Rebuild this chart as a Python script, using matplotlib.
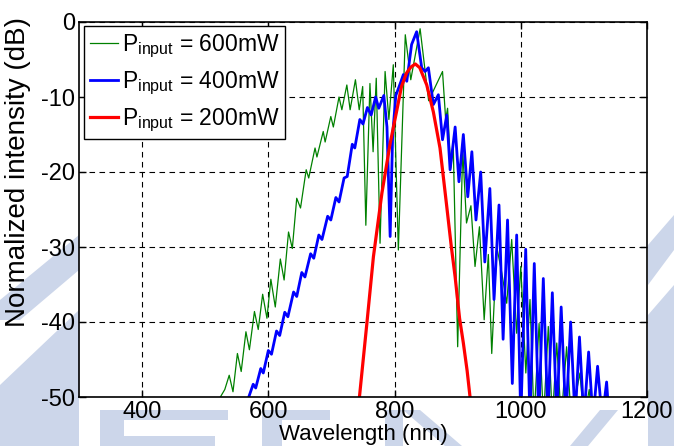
import matplotlib
matplotlib.use("Agg")
import matplotlib.pyplot as plt
from matplotlib.patches import Polygon

plt.rcParams['font.family'] = ['Liberation Sans', 'DejaVu Sans']
plt.rcParams['mathtext.fontset'] = 'custom'
plt.rcParams['mathtext.rm'] = 'Liberation Sans'
plt.rcParams['mathtext.it'] = 'Liberation Sans:italic'
plt.rcParams['axes.unicode_minus'] = False

# -------------------------
# datos
# -------------------------
wl_600 = [520, 524, 531, 538, 544, 551, 557, 564.5, 570, 578,
          584, 591, 597.8, 604, 611, 619, 625, 632, 638, 645,
          651, 660, 664, 674, 677, 687, 690, 699, 703, 712,
          716.5, 724.4, 729.6, 738, 744, 749.5, 754.5, 761, 766, 771,
          777, 785, 791, 798, 806, 817, 825.7, 840.5, 854, 876,
          881, 884, 889, 893, 900, 908, 914, 921, 927.5, 934.5,
          942, 948.6, 954, 962, 970, 977.7, 985.6, 993.5, 1000, 1008,
          1014.6, 1021, 1029, 1036, 1043.6, 1050, 1057, 1064, 1072.6, 1080,
          1093.7, 1100, 1108.5, 1112]
db_600 = [-53, -50, -49, -47.1, -49.3, -44.2, -46.6, -41.3, -43.7, -38.6,
          -41, -36.3, -39.5, -34.3, -38, -31.6, -34.4, -28, -30.2, -23.5,
          -24.8, -19.7, -20.8, -16.8, -18, -14.6, -16, -12.6, -14, -10,
          -11.7, -8.4, -11.7, -7.7, -11.7, -8.6, -27.1, -8.2, -17.3, -7.5,
          -29.5, -6.6, -13, -5.7, -30.4, -1.7, -7.7, -0.9, -10.5, -6.6,
          -13, -11.5, -19.5, -16.5, -43.3, -17, -26.8, -24.5, -32.6, -27.3,
          -39.7, -31, -44.2, -30, -33.5, -37.5, -29, -41.5, -32.6, -46.8,
          -37, -53, -40.2, -53, -40.6, -53, -42.8, -53, -43.3, -53,
          -46.8, -53, -49, -53]

wl_400 = [565, 569, 576, 580, 588, 592, 600, 605, 613, 618,
          626, 631, 640, 645, 653, 658, 667, 672, 680, 685,
          694, 699, 707, 712, 720, 725, 733, 737, 745, 750,
          757, 763, 770, 775, 783, 788, 793, 797, 802, 809,
          814, 819.4, 827, 835, 843, 848.4, 853.6, 861.5, 869.4, 876,
          882.7, 888, 896, 902, 909, 916, 922.5, 929, 936.5, 943,
          951, 957.6, 965.5, 972, 979, 986.6, 993.5, 1000, 1007.8, 1014.5,
          1021.4, 1028.5, 1035.7, 1043, 1050, 1057, 1064, 1071.5, 1079, 1086,
          1093, 1100, 1107.5, 1114.5, 1121.7, 1129, 1136, 1140]
db_400 = [-53, -50, -48.3, -48.8, -46.2, -46.8, -43.8, -44.3, -41.2, -41.8,
          -38.7, -39.3, -36.0, -36.6, -33.4, -34.0, -30.9, -31.5, -28.4, -29.0,
          -25.9, -26.4, -23.4, -24.0, -20.8, -20.6, -16.3, -16.8, -13.0, -13.6,
          -11.4, -12.4, -10.0, -11.5, -9.8, -14, -28.6, -15, -9.8, -8.2,
          -7.0, -7.9, -3.0, -1.3, -6.1, -6.6, -6.1, -11.0, -9.7, -15.7,
          -12.4, -19.7, -14.0, -21.3, -15.0, -23.3, -17.3, -26.4, -20.0, -32.0,
          -22.2, -37.0, -24.4, -42.3, -26.4, -48.2, -28.4, -53, -30.3, -53,
          -32.2, -53, -34.2, -53, -36.1, -53, -38.0, -53, -40.0, -53,
          -42.0, -53, -44.0, -53, -45.9, -53, -48.0, -53]

wl_200 = [742, 744, 756, 766.5, 780, 793, 803.5, 811, 819, 826, 833, 840,
          851, 861.5, 872, 882.7, 890, 896, 903, 909, 915, 920, 922]
db_200 = [-53, -50.3, -40.3, -31.3, -22.8, -16.2, -11.8, -8.6, -6.8, -6.0, -5.6, -6.1,
          -8.4, -12, -16.8, -24.6, -30, -34, -39.5, -42.8, -46.5, -50.3, -53]

etiquetas = [r'P$_{\rm input}$ = 600mW', r'P$_{\rm input}$ = 400mW', r'P$_{\rm input}$ = 200mW']
x_ticks = [400, 600, 800, 1000, 1200]
y_ticks = [0, -10, -20, -30, -40, -50]

W, H = 674, 446
fig = plt.figure(figsize=(W / 100, H / 100), dpi=100)

# marca de agua de fondo (aproximada)
def px(pts):
    return [(x / W, 1 - y / H) for x, y in pts]

agua = '#ccd6ea'
formas = [
    [(100, 410), (124, 410), (124, 446), (100, 446)],
    [(100, 410), (228, 410), (228, 420), (100, 420)],
    [(100, 436), (215, 436), (215, 446), (100, 446)],
    [(262, 410), (282, 410), (282, 446), (262, 446)],
    [(262, 410), (330, 410), (330, 420), (262, 420)],
    [(385, 410), (403, 410), (403, 446), (385, 446)],
    [(403, 410), (420, 410), (462, 446), (445, 446)],
    [(570, 446), (600, 410), (618, 410), (588, 446)],
    [(648, 245), (674, 215), (674, 250), (648, 285)],
    [(648, 315), (674, 285), (674, 446), (648, 446)],
    [(79, 235), (79, 270), (20, 320), (0, 320), (0, 300)],
    [(79, 310), (79, 446), (0, 446), (0, 385)],
]
for f in formas:
    fig.add_artist(Polygon(px(f), closed=True, facecolor=agua, edgecolor='none', zorder=0))

ax = fig.add_axes([79 / W, 1 - 397 / H, (647 - 79) / W, (397 - 22) / H])
ax.set_facecolor('white')

ax.plot(wl_600, db_600, color='#008000', lw=0.9, label=etiquetas[0])
ax.plot(wl_400, db_400, color='#0000ff', lw=2.0, label=etiquetas[1])
ax.plot(wl_200, db_200, color='#ff0000', lw=2.3, label=etiquetas[2])

ax.set_xlim(300, 1200)
ax.set_ylim(-50, 0)
ax.set_xticks(x_ticks)
ax.set_yticks(y_ticks)
ax.tick_params(direction='in', top=True, right=True, length=5, width=1,
               labelsize=17, pad=3)
ax.grid(True, color='black', lw=0.8, dashes=(5, 4))
for s in ax.spines.values():
    s.set_linewidth(1.2)

ax.set_xlabel('Wavelength (nm)', fontsize=16)
ax.xaxis.set_label_coords(0.5, -0.072)
ax.xaxis.label.set_va('top')
ax.set_ylabel('Normalized intensity (dB)', fontsize=20)
ax.yaxis.set_label_coords(-0.084, 0.6)

leg = ax.legend(loc='upper left', bbox_to_anchor=(0.009, 0.988), fontsize=16.5,
                handlelength=1.25, handletextpad=0.15, labelspacing=0.42,
                borderpad=0.25, borderaxespad=0, fancybox=False, framealpha=1)
leg.get_frame().set_edgecolor('black')
leg.get_frame().set_linewidth(1.0)

fig.savefig('out.png', dpi=100)
